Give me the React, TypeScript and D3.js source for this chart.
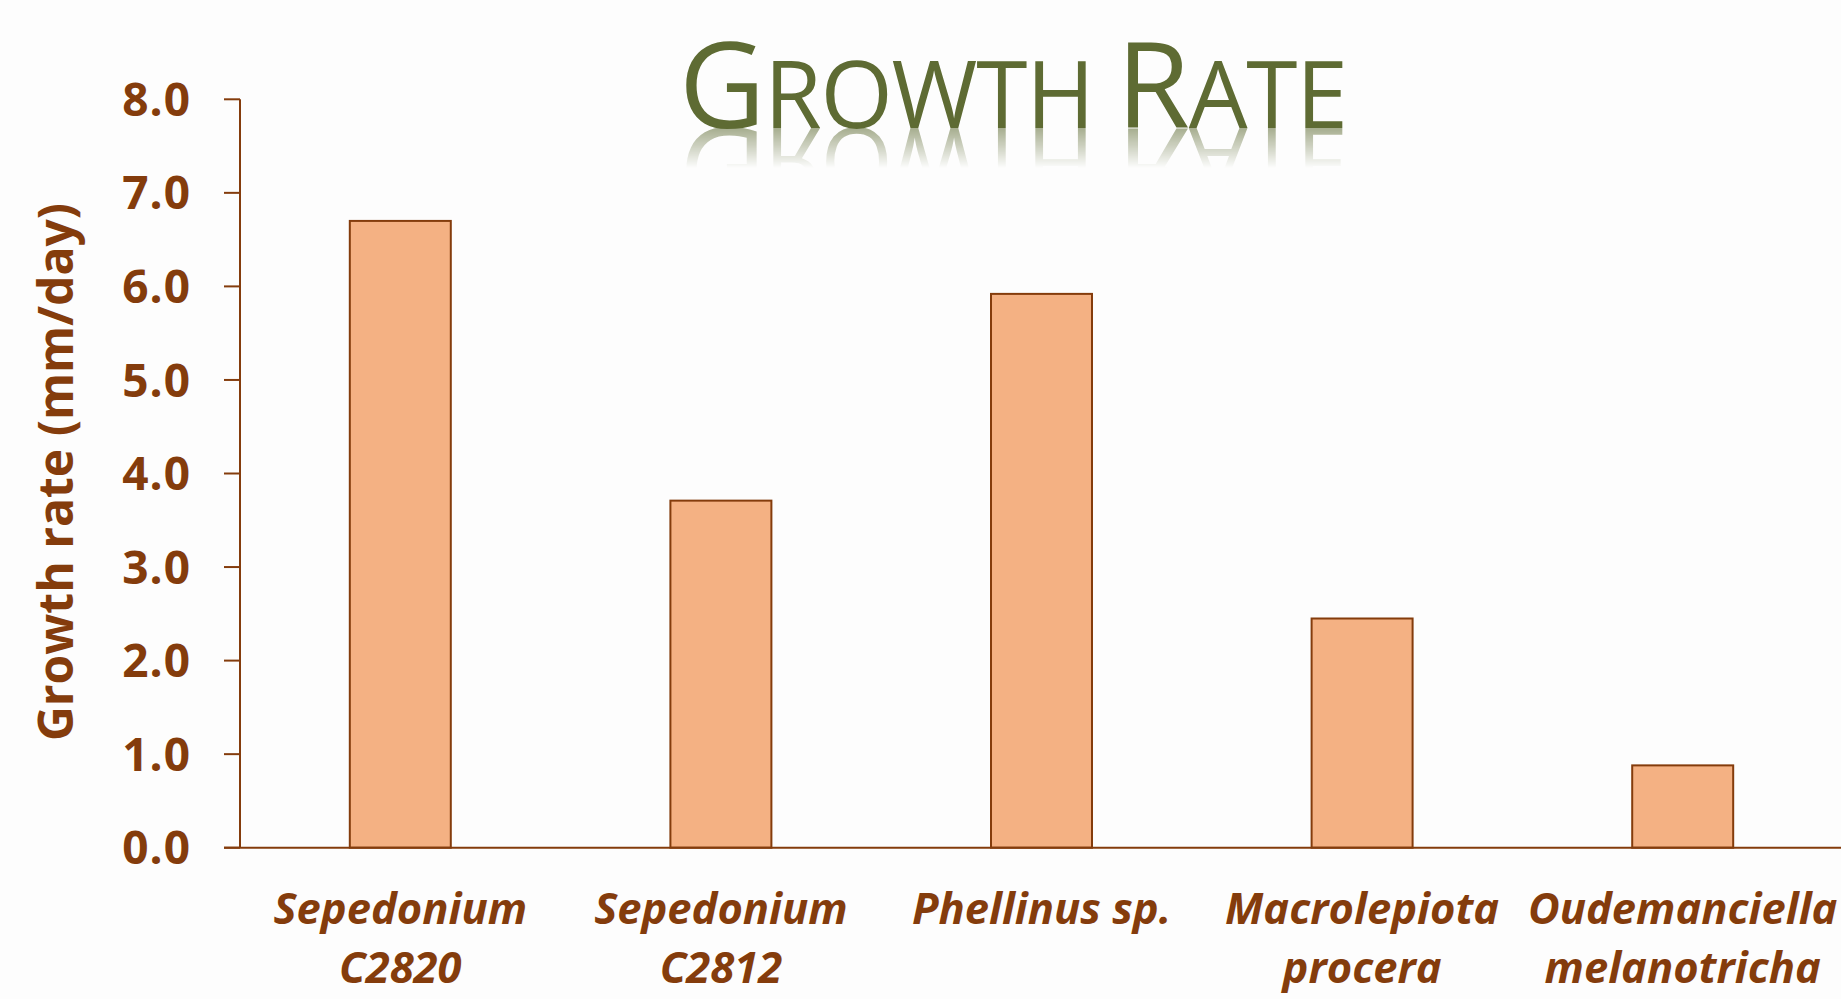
import React from "react";
import * as d3 from "d3";

const categories: string[][] = [
  ["Sepedonium", "C2820"],
  ["Sepedonium", "C2812"],
  ["Phellinus sp."],
  ["Macrolepiota", "procera"],
  ["Oudemanciella", "melanotricha"],
];
const growthRates: number[] = [6.7, 3.71, 5.92, 2.45, 0.88];
const yTicks: number[] = [0, 1, 2, 3, 4, 5, 6, 7, 8];
const yAxisTitle = "Growth rate (mm/day)";

const W = 1841;
const H = 999;
const BROWN = "#843c0c";
const FILL = "#f4b183";
const OLIVE = "#5e6b33";
const FONT = "'Open Sans', sans-serif";

export default function App() {
  const x0 = 240;
  const band = 320.6;
  const x = d3
    .scaleBand<number>()
    .domain(categories.map((_, i) => i))
    .range([x0, x0 + band * categories.length])
    .paddingInner(0.685)
    .paddingOuter(0.685 / 2);
  const y = d3.scaleLinear().domain([0, 8]).range([847.7, 99.3]);
  const fmt = d3.format(".1f");

  const titleBase = 128;

  return (
    <svg
      width={W}
      height={H}
      viewBox={`0 0 ${W} ${H}`}
      style={{ position: "absolute", left: 0, top: 0, background: "#fdfdfd" }}
    >
      <defs>
        <linearGradient id="reflFade" x1="0" y1="0" x2="0" y2="1">
          <stop offset="0" stopColor="#fff" stopOpacity={0.55} />
          <stop offset="1" stopColor="#fff" stopOpacity={0} />
        </linearGradient>
        <mask id="reflMask" maskUnits="userSpaceOnUse" x={0} y={0} width={W} height={H}>
          <rect x={600} y={titleBase} width={900} height={40} fill="url(#reflFade)" />
        </mask>
      </defs>
      <rect width={W} height={H} fill="#fdfdfd" />

      {/* Title */}
      <text
        id="chartTitle"
        x={679}
        y={titleBase}
        textLength={669}
        lengthAdjust="spacing"
        fontFamily={FONT}
        fill={OLIVE}
      >
        <tspan fontSize={119}>G</tspan>
        <tspan fontSize={93}>ROWTH </tspan>
        <tspan fontSize={119}>R</tspan>
        <tspan fontSize={93}>ATE</tspan>
      </text>
      <g mask="url(#reflMask)">
        <use href="#chartTitle" transform={`translate(0, ${2 * titleBase}) scale(1,-1)`} />
      </g>

      {/* Bars */}
      {growthRates.map((v, i) => (
        <rect
          key={i}
          x={x(i)!}
          y={y(v)}
          width={x.bandwidth()}
          height={y(0) - y(v)}
          fill={FILL}
          stroke={BROWN}
          strokeWidth={2}
        />
      ))}

      {/* Y axis */}
      <line x1={x0} x2={x0} y1={y(8)} y2={y(0)} stroke={BROWN} strokeWidth={2} />
      {yTicks.map((t) => (
        <g key={t}>
          <line x1={x0 - 16} x2={x0} y1={y(t)} y2={y(t)} stroke={BROWN} strokeWidth={2} />
          <text
            x={191}
            y={y(t)}
            dy="0.36em"
            textAnchor="end"
            fontFamily={FONT}
            fontWeight={700}
            fontSize={46}
            letterSpacing={1}
            fill={BROWN}
          >
            {fmt(t)}
          </text>
        </g>
      ))}
      {/* X axis */}
      <line x1={x0 - 16} x2={W} y1={y(0)} y2={y(0)} stroke={BROWN} strokeWidth={2} />

      {/* Category labels */}
      {categories.map((lines, i) => (
        <text
          key={i}
          x={x(i)! + x.bandwidth() / 2}
          y={924}
          textAnchor="middle"
          fontFamily={FONT}
          fontWeight={700}
          fontStyle="italic"
          fontSize={43.5}
          fill={BROWN}
        >
          {lines.map((l, j) => (
            <tspan key={j} x={x(i)! + x.bandwidth() / 2} dy={j === 0 ? 0 : 59}>
              {l}
            </tspan>
          ))}
        </text>
      ))}

      {/* Y axis title */}
      <text
        transform={`translate(73, 472) rotate(-90)`}
        textAnchor="middle"
        fontFamily={FONT}
        fontWeight={700}
        fontSize={48}
        fill={BROWN}
      >
        {yAxisTitle}
      </text>
    </svg>
  );
}
